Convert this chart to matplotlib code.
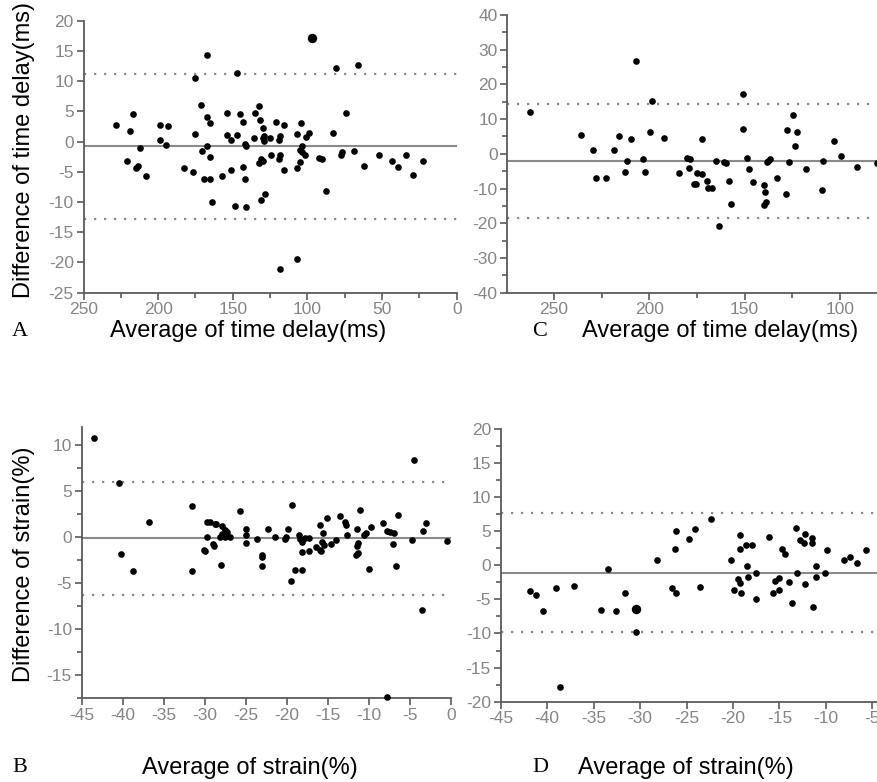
import matplotlib
matplotlib.use('Agg')
import matplotlib.pyplot as plt
from matplotlib.ticker import MultipleLocator

plt.rcParams['font.family'] = ['Liberation Sans', 'DejaVu Sans']
plt.rcParams['axes.unicode_minus'] = False

# ---------------- data ----------------
# Panel A: time delay (ms)
A_avg = [228, 219, 217, 221, 215, 213.5, 212, 208, 199, 198.5, 193.5, 194.5, 183, 177,
         175.5, 175.5, 171, 170.5, 169.5, 165.5, 167.5, 165.5, 167, 165.5, 167, 164, 157,
         154, 154, 151.5, 147.5, 151.5, 147, 148.3, 141, 145.5, 143.3, 142, 141, 143.2,
         142, 132.7, 135, 132, 130, 136, 130, 129, 129.4, 125, 121, 116, 118.7, 119.4,
         124.2, 119.2, 118.7, 131, 132.6, 130, 116, 131, 128.7, 104.6, 107, 100.7, 99,
         104, 105.2, 103.4, 101.4, 105.2, 107, 92.3, 90, 82.9, 77.7, 76.6, 87.3, 80.6,
         66.1, 74.4, 69, 62.1, 52.4, 43.3, 39.3, 33.9, 29, 22.7, 118.7, 107]
A_diff = [2.8, 1.8, 4.5, -3.2, -4.4, -4.0, -1.0, -5.7, 0.3, 2.8, 2.5, -0.5, -4.4, -5.0,
          10.5, 1.3, 6.0, -1.5, -6.2, -6.2, 4.0, 3.0, -0.7, -2.5, 14.3, -10.0, -5.7,
          4.8, 1.1, 0.3, 1.1, -4.7, 11.3, -10.7, -10.9, 4.5, 3.25, -0.45, -0.7, -4.2,
          -6.2, 5.9, 4.8, 3.5, 2.3, 0.55, 0.55, 0.9, 0.15, 0.55, 3.25, 2.8, 1.0, 0.26,
          -2.2, -2.8, -2.3, -2.8, -3.6, -3.2, -4.7, -9.7, -8.7, 3.0, 1.26, 0.8, 1.5,
          -0.7, -1.4, -1.7, -2.2, -3.3, -4.3, -2.7, -2.9, 1.5, -2.2, -1.8, -8.2, 12.2,
          12.7, 4.8, -1.5, -4.0, -2.2, -3.2, -4.2, -2.2, -5.5, -3.2, -21.1, -19.4]
A_big_avg = [97.3]
A_big_diff = [17.2]
A_lines = [-0.7, 11.2, -12.8]          # mean, upper, lower

# Panel C: time delay (ms)
C_avg = [262.6, 236, 229.4, 227.8, 222.7, 218.7, 216.1, 209.6, 211.9, 212.9, 207.2, 198.8,
         199.7, 203.2, 202.3, 192.3, 184.5, 180.4, 178.7, 179.1, 176.4, 175.5, 174.9, 172.6,
         172.6, 169.9, 169.1, 167.3, 165, 163.3, 160.9, 159.8, 158.2, 157.3, 150.7, 150.7,
         149, 147.6, 145.8, 139.9, 139.2, 139.9, 138.8, 138.1, 136.7, 137.6, 132.9, 128.5,
         128, 126.9, 124.5, 122.7, 123.6, 117.9, 109.6, 108.8, 103.2, 99.5, 91.3, 80.6]
C_diff = [12.1, 5.5, 1.1, -6.9, -6.9, 1.1, 5.0, 4.3, -2.1, -5.2, 26.7, 15.2,
          6.4, -1.6, -5.2, 4.6, -5.6, -1.1, -1.6, -4.2, -8.7, -8.7, -5.4, -5.9,
          4.2, -7.7, -9.9, -9.9, -2.1, -20.7, -2.45, -2.7, -7.8, -14.5, 17.1, 7.3,
          -1.1, -4.3, -8.2, -9.1, -10.9, -14.8, -13.8, -2.45, -1.6, -2.0, -6.9, -11.7,
          6.9, -2.45, 11.2, 6.4, 2.3, -4.3, -10.4, -2.1, 3.7, -0.6, -3.8, -2.7]
C_lines = [-2.0, 14.35, -18.5]

# Panel B: strain (%)
B_avg = [-43.5, -40.4, -40.2, -38.7, -36.8, -31.6, -31.6, -29.7, -29.4, -28.8, -28.6, -29.7,
         -30.1, -30.0, -29.0, -28.9, -28.0, -27.9, -27.9, -27.5, -27.3, -28.1, -27.5, -26.9,
         -25.7, -25.0, -25.0, -25.0, -23.6, -23.0, -23.0, -23.0, -22.3, -21.4, -20.2, -20.1,
         -19.9, -19.4, -18.5, -18.4, -18.1, -17.8, -17.3, -18.2, -17.3, -19.0, -18.1, -19.5,
         -16.4, -16.0, -15.8, -16.0, -15.6, -15.7, -15.5, -15.1, -14.6, -14.0, -13.5, -12.9,
         -12.8, -12.7, -11.1, -11.4, -10.6, -10.4, -9.7, -11.3, -11.4, -11.3, -11.6, -10.0,
         -8.25, -7.8, -7.4, -6.9, -6.4, -7.1, -6.7, -4.8, -3.4, -3.0, -0.45, -4.55, -3.57,
         -7.8]
B_diff = [10.8, 5.9, -1.8, -3.65, 1.66, 3.36, -3.65, 1.66, 1.6, 1.45, 1.45, 0.0,
          -1.4, -1.55, -0.7, -1.0, -3.0, 0.35, 1.22, 0.8, 0.57, 0.0, 0.0, 0.0,
          2.85, 0.93, 0.25, -0.65, -0.18, -1.9, -2.1, -3.1, 0.87, 0.07, -0.18, 0.07,
          0.87, 3.5, 0.28, -0.22, -0.47, -0.1, -0.1, -1.63, -1.45, -3.6, -3.6, -4.8,
          -1.1, -1.4, -1.55, 1.33, 0.43, -0.47, -0.83, 2.06, -0.76, -0.29, 2.35, 1.7,
          1.33, 0.25, 2.9, 0.87, 0.25, 0.43, 1.08, -0.58, -1.0, -1.67, -1.92, -3.5,
          1.5, 0.72, 0.54, 0.43, 2.4, -0.76, -3.1, -0.29, 0.68, 1.58, -0.43, 8.4, -7.96,
          -17.4]
B_lines = [-0.1, 6.0, -6.26]

# Panel D: strain (%)
D_avg = [-41.9, -41.2, -40.4, -39.05, -37.1, -38.6, -33.4, -34.2, -32.6, -31.6, -30.4,
         -28.2, -26.1, -26.2, -26.6, -26.1, -24.7, -24.1, -22.4, -23.55, -20.2, -19.2,
         -19.2, -18.6, -17.9, -18.45, -19.5, -19.2, -18.35, -17.5, -19.9, -19.1, -17.5,
         -16.1, -14.75, -14.4, -15.5, -15.0, -15.7, -15.0, -14.0, -13.7, -13.2, -12.8,
         -12.35, -12.2, -11.5, -11.5, -13.1, -12.25, -11.4, -11.05, -11.05, -10.1, -9.9,
         -8.1, -7.4, -6.7, -5.7]
D_diff = [-3.8, -4.3, -6.75, -3.4, -3.0, -17.8, -0.53, -6.5, -6.75, -4.1, -9.8,
          0.78, 5.0, 2.33, -3.35, -4.1, 3.9, 5.25, 6.8, -3.2, 0.78, 4.5,
          2.33, 3.0, 3.0, -0.1, -2.0, -2.6, -1.7, -1.17, -3.6, -4.1, -5.0,
          4.1, 2.43, 1.7, -2.3, -1.8, -4.1, -3.65, -2.5, -5.6, 5.5, 3.7,
          3.3, 4.6, 4.0, 3.3, -1.17, -2.8, -6.1, -0.1, -1.7, -1.17, 2.2,
          0.78, 1.27, 0.4, 2.2]
D_big_avg = [-30.4]
D_big_diff = [-6.4]
D_lines = [-1.07, 7.7, -9.8]

# ---------------- layout ----------------
W, H = 877, 782
fig = plt.figure(figsize=(W / 100, H / 100), dpi=100)


def box(l, t, r, b):
    return [l / W, 1 - b / H, (r - l) / W, (b - t) / H]


SPINE = '#5a5a5a'
TICKLBL = '#858585'


def style(ax):
    for s in ['top', 'right']:
        ax.spines[s].set_visible(False)
    for s in ['left', 'bottom']:
        ax.spines[s].set_color(SPINE)
        ax.spines[s].set_linewidth(1.3)
    ax.tick_params(which='major', direction='out', length=5, width=1.2, color=SPINE,
                   labelcolor=TICKLBL, labelsize=12.5, pad=2)
    ax.tick_params(which='minor', direction='out', length=3.5, width=1.2, color=SPINE)
    ax.patch.set_alpha(0)


def draw(ax, xs, ys, lines, bigx=None, bigy=None):
    ax.axhline(lines[0], color='#8a8a8a', lw=1.5, zorder=1)
    for v in lines[1:]:
        ax.axhline(v, color='#8a8a8a', lw=1.6, ls=(0, (1, 3.5)), zorder=1)
    ax.plot(xs, ys, 'o', color='black', ms=4.8, mew=0, clip_on=False, zorder=3)
    if bigx is not None:
        ax.plot(bigx, bigy, 'o', color='black', ms=6.8, mew=0, clip_on=False, zorder=3)


# Panel A
axA = fig.add_axes(box(83.5, 20.7, 456.8, 292.7))
style(axA)
draw(axA, A_avg, A_diff, A_lines, A_big_avg, A_big_diff)
axA.set_xlim(250, 0)
axA.set_ylim(-25, 20)
axA.xaxis.set_major_locator(MultipleLocator(50))
axA.xaxis.set_minor_locator(MultipleLocator(25))
axA.yaxis.set_major_locator(MultipleLocator(5))

# Panel C
axC = fig.add_axes(box(507.3, 15, 877, 292.7))
style(axC)
draw(axC, C_avg, C_diff, C_lines)
axC.set_xlim(274.5, 80.6)
axC.set_ylim(-40, 40)
axC.xaxis.set_major_locator(MultipleLocator(50))
axC.xaxis.set_minor_locator(MultipleLocator(25))
axC.yaxis.set_major_locator(MultipleLocator(10))
axC.yaxis.set_minor_locator(MultipleLocator(5))

# Panel B
axB = fig.add_axes(box(81.7, 426.7, 451, 698.3))
style(axB)
draw(axB, B_avg, B_diff, B_lines)
axB.set_xlim(-45, 0)
axB.set_ylim(-17.5, 12)
axB.xaxis.set_major_locator(MultipleLocator(5))
axB.yaxis.set_major_locator(MultipleLocator(5))
axB.yaxis.set_minor_locator(MultipleLocator(2.5))

# Panel D
axD = fig.add_axes(box(500.7, 428.8, 877, 701.7))
style(axD)
draw(axD, D_avg, D_diff, D_lines, D_big_avg, D_big_diff)
axD.set_xlim(-45, -4.5)
axD.set_ylim(-20, 20)
axD.xaxis.set_major_locator(MultipleLocator(5))
axD.yaxis.set_major_locator(MultipleLocator(5))
axD.yaxis.set_minor_locator(MultipleLocator(2.5))

# ---------------- texts ----------------
LBL = 17
SERIF = ['Liberation Serif', 'DejaVu Serif']


def ftext(x, y, s, **kw):
    fig.text(x / W, 1 - y / H, s, **kw)


ftext(24, 150, 'Difference of time delay(ms)', rotation=90, fontsize=LBL, ha='center', va='center')
ftext(24, 564, 'Difference of strain(%)', rotation=90, fontsize=LBL, ha='center', va='center')

ftext(12, 331, 'A', family=SERIF, fontsize=16, ha='left', va='center')
ftext(248, 331, 'Average of time delay(ms)', fontsize=LBL, ha='center', va='center')
ftext(532, 331, 'C', family=SERIF, fontsize=16, ha='left', va='center')
ftext(720, 331, 'Average of time delay(ms)', fontsize=LBL, ha='center', va='center')

ftext(12, 768, 'B', family=SERIF, fontsize=16, ha='left', va='center')
ftext(250, 768, 'Average of strain(%)', fontsize=LBL, ha='center', va='center')
ftext(532, 768, 'D', family=SERIF, fontsize=16, ha='left', va='center')
ftext(686, 768, 'Average of strain(%)', fontsize=LBL, ha='center', va='center')

fig.savefig('out.png', dpi=100)
